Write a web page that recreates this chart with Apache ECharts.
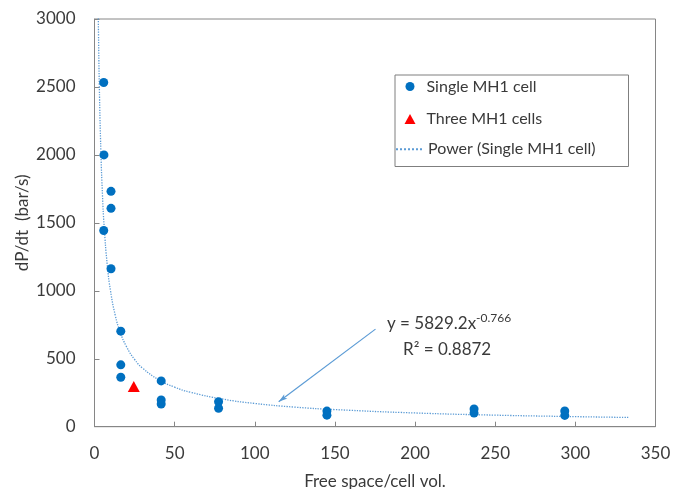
<!DOCTYPE html>
<html>
<head>
<meta charset="utf-8">
<script src="https://cdn.jsdelivr.net/npm/echarts@6/dist/echarts.min.js"></script>
<style>
  html, body { margin: 0; padding: 0; background: #fff; }
  #main { width: 673px; height: 489px; }
</style>
</head>
<body>
<div id="main"></div>
<script>
// measured points, single cell
const singleX = [5.75, 5.9, 10.3, 10.3, 5.75, 10.3, 16.4, 16.4, 16.4, 41.6, 41.6, 41.6, 77.4, 77.4, 145, 145, 236.8, 236.8, 293.4, 293.4];
const singleY = [2533, 2000, 1732, 1607, 1444, 1162, 703, 455, 364, 337, 197, 167, 184, 136, 115, 85, 130, 100, 116, 83];

// three cells
const threeX = [24.5];
const threeY = [295];

// power trendline
const trendX = [2.3, 2.5, 3, 4, 5, 6, 8, 10, 13, 16, 20, 25, 30, 40, 50, 60, 80, 100, 125, 150, 200, 250, 300, 333];
const trendY = [3080, 2889, 2513, 2016, 1699, 1478, 1185, 999, 817, 697, 588, 495, 431, 346, 291, 253, 203, 171, 144, 126, 101, 85, 74, 68];

// arrow from equation label to the curve
const arrowFrom = [175.3, 718];
const arrowTo = [114.9, 184];

const xTicks = { min: 0, max: 350, interval: 50 };
const yTicks = { min: 0, max: 3000, interval: 500 };

const FONT = "Lato";
const TEXT = "#3a3a3a";
const AXIS = "#868686";

const zip = (xs, ys) => xs.map((x, i) => [x, ys[i]]);

const chart = echarts.init(document.getElementById("main"), null, { renderer: "canvas" });

const option = {
  backgroundColor: "#fff",
  animation: false,
  textStyle: { fontFamily: FONT, color: TEXT },
  grid: {
    left: 94.5,
    right: 17.5,
    top: 19,
    bottom: 62.3,
    show: true,
    borderColor: AXIS,
    borderWidth: 1,
    containLabel: false,
    outerBoundsMode: "none",
  },
  xAxis: {
    type: "value",
    min: xTicks.min,
    max: xTicks.max,
    interval: xTicks.interval,
    name: "Free space/cell vol.",
    nameLocation: "middle",
    nameGap: 46,
    nameMoveOverlap: false,
    nameTextStyle: { fontFamily: FONT, fontSize: 17, color: TEXT },
    axisLine: { show: true, lineStyle: { color: AXIS, width: 1 } },
    axisTick: { show: true, inside: true, length: 5, lineStyle: { color: AXIS } },
    axisLabel: { fontFamily: FONT, fontSize: 17, color: TEXT, margin: 18 },
    splitLine: { show: false },
  },
  yAxis: {
    type: "value",
    min: yTicks.min,
    max: yTicks.max,
    interval: yTicks.interval,
    name: "dP/dt  (bar/s)",
    nameLocation: "middle",
    nameGap: 63,
    nameMoveOverlap: false,
    nameTextStyle: { fontFamily: FONT, fontSize: 17, color: TEXT },
    axisLine: { show: true, lineStyle: { color: AXIS, width: 1 } },
    axisTick: { show: true, inside: true, length: 5, lineStyle: { color: AXIS } },
    axisLabel: {
      fontFamily: FONT,
      fontSize: 17,
      color: TEXT,
      margin: 19,
      formatter: (v) => String(v),
    },
    splitLine: { show: false },
  },
  legend: [
    {
      data: ["Single MH1 cell"],
      left: 405.5,
      top: 78.5,
      padding: 0,
      itemWidth: 9,
      itemHeight: 9,
      icon: "circle",
      textStyle: { fontFamily: FONT, fontSize: 16, color: TEXT, padding: [0, 0, 0, 7] },
    },
    {
      data: ["Three MH1 cells"],
      left: 404.5,
      top: 111,
      padding: 0,
      itemWidth: 11,
      itemHeight: 10,
      icon: "triangle",
      textStyle: { fontFamily: FONT, fontSize: 16, color: TEXT, padding: [0, 0, 0, 6] },
    },
    {
      data: ["Power (Single MH1 cell)"],
      left: 395,
      top: 141.3,
      padding: 0,
      itemWidth: 27,
      itemHeight: 10,
      itemStyle: { opacity: 0 },
      textStyle: { fontFamily: FONT, fontSize: 16, color: TEXT },
    },
  ],
  graphic: [
    {
      type: "rect",
      left: 392.5,
      top: 72.5,
      shape: { width: 233.5, height: 91.5 },
      style: { fill: "none", stroke: "#7f7f7f", lineWidth: 1 },
      z: 10,
    },
    {
      type: "text",
      left: 387,
      top: 312,
      style: {
        text: "{a|y = 5829.2x}{b|-0.766}",
        rich: {
          a: { fontFamily: FONT, fontSize: 17, fill: TEXT },
          b: { fontFamily: FONT, fontSize: 12, fill: TEXT, padding: [0, 0, 12, 0] },
        },
      },
      z: 10,
    },
    {
      type: "text",
      left: 403,
      top: 341,
      style: { text: "R² = 0.8872", fontFamily: FONT, fontSize: 17, fill: TEXT },
      z: 10,
    },
  ],
  series: [
    {
      name: "Power (Single MH1 cell)",
      type: "line",
      data: zip(trendX, trendY),
      smooth: true,
      symbol: "none",
      showSymbol: false,
      clip: true,
      color: "#5B9BD5",
      lineStyle: { type: "dotted", width: 1.3, color: "#5B9BD5" },
      z: 1,
      markLine: {
        silent: true,
        symbol: ["none", "arrow"],
        symbolSize: [4, 9],
        label: { show: false },
        lineStyle: { type: "solid", color: "#5B9BD5", width: 1.2 },
        data: [[{ coord: arrowFrom }, { coord: arrowTo }]],
      },
    },
    {
      name: "Single MH1 cell",
      type: "scatter",
      data: zip(singleX, singleY),
      symbol: "circle",
      symbolSize: 9,
      color: "#0070C0",
      itemStyle: { color: "#0070C0", opacity: 1 },
      z: 3,
    },
    {
      name: "Three MH1 cells",
      type: "scatter",
      data: zip(threeX, threeY),
      symbol: "triangle",
      symbolSize: [12, 11],
      color: "#FF0000",
      itemStyle: { color: "#FF0000", opacity: 1 },
      z: 3,
    },
  ],
};

chart.setOption(option);
</script>
</body>
</html>
